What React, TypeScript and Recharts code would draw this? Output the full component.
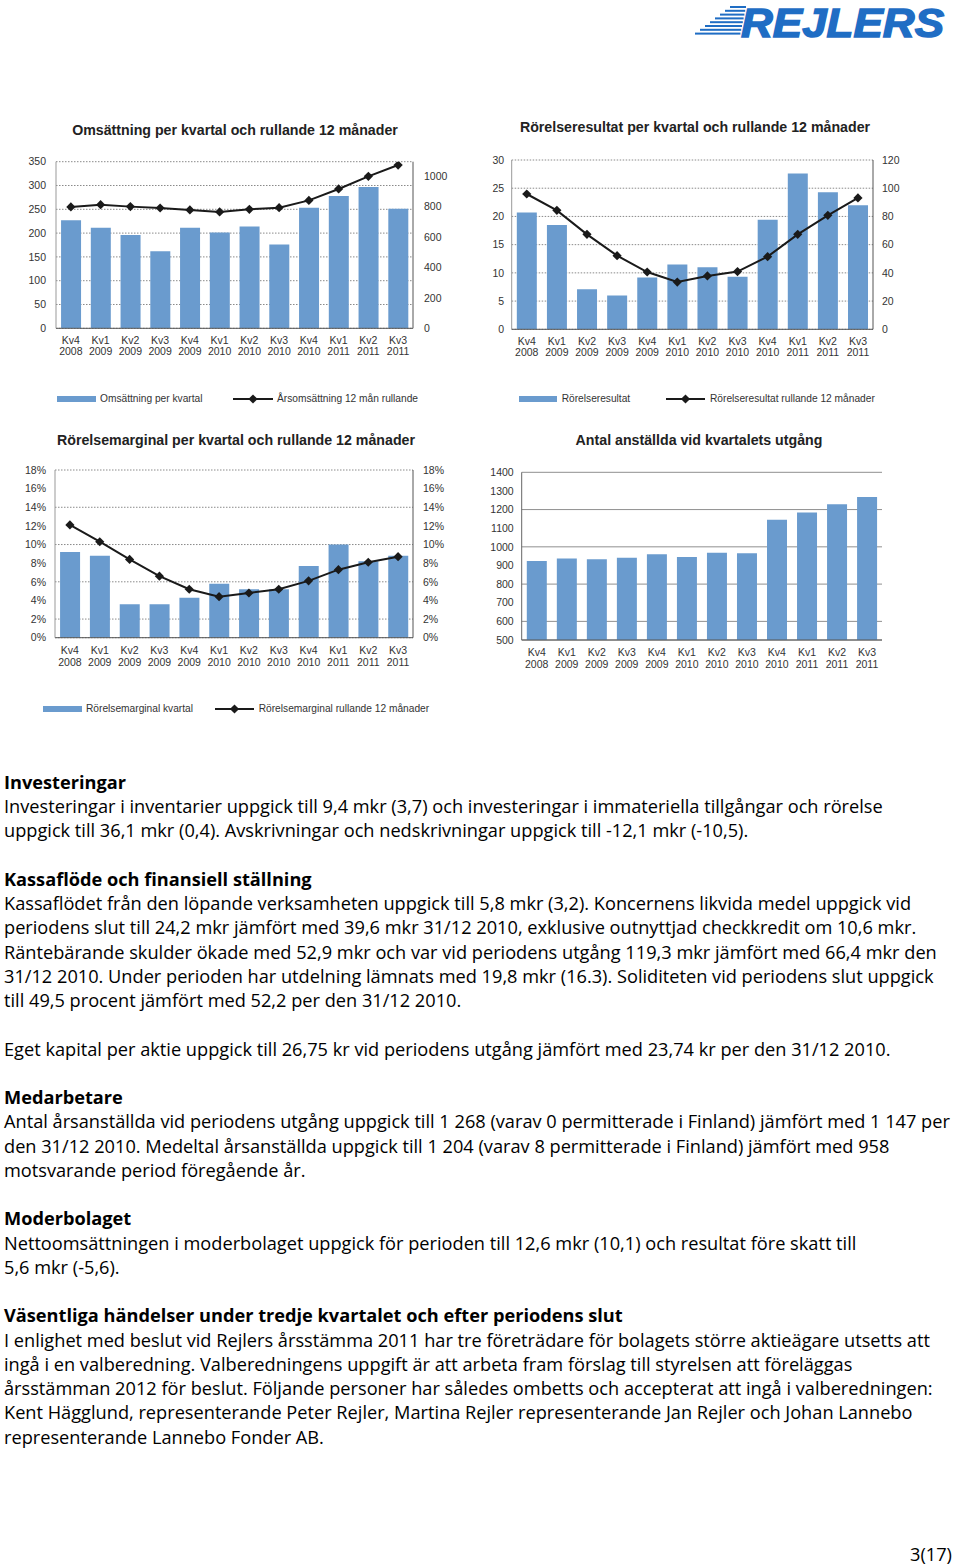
import React from 'react';
import { ComposedChart, BarChart, Bar, Line, XAxis, YAxis, CartesianGrid } from 'recharts';

// ---------- DATA ----------
const categories = [
  'Kv4 2008', 'Kv1 2009', 'Kv2 2009', 'Kv3 2009', 'Kv4 2009', 'Kv1 2010',
  'Kv2 2010', 'Kv3 2010', 'Kv4 2010', 'Kv1 2011', 'Kv2 2011', 'Kv3 2011',
];
const omsKvartal = [227, 211, 196, 162, 211, 201, 214, 176, 253, 278, 297, 251];
const omsRullande = [797, 812, 799, 790, 777, 764, 781, 792, 840, 915, 998, 1072];
const rrKvartal = [20.7, 18.5, 7.1, 6.0, 9.2, 11.5, 11.0, 9.3, 19.4, 27.6, 24.3, 22.0];
const rrRullande = [95.9, 84.3, 67.3, 52.2, 40.6, 33.5, 37.8, 40.9, 51.5, 67.3, 80.8, 93.1];
const marginalKvartal = [9.2, 8.8, 3.6, 3.6, 4.3, 5.8, 5.2, 5.2, 7.7, 10.0, 8.2, 8.8];
const marginalRullande = [12.1, 10.3, 8.4, 6.6, 5.2, 4.4, 4.8, 5.2, 6.1, 7.3, 8.1, 8.7];
const anstallda = [924, 937, 933, 942, 960, 945, 968, 965, 1146, 1184, 1228, 1268];

const omsLeftTicks = [0, 50, 100, 150, 200, 250, 300, 350];
const omsRightTicks = [0, 200, 400, 600, 800, 1000];
const rrLeftTicks = [0, 5, 10, 15, 20, 25, 30];
const rrRightTicks = [0, 20, 40, 60, 80, 100, 120];
const pctTicks = [0, 2, 4, 6, 8, 10, 12, 14, 16, 18];
const anstTicks = [500, 600, 700, 800, 900, 1000, 1100, 1200, 1300, 1400];

const omsData = categories.map((cat, i) => ({ cat, bar: omsKvartal[i], line: omsRullande[i] }));
const rrData = categories.map((cat, i) => ({ cat, bar: rrKvartal[i], line: rrRullande[i] }));
const margData = categories.map((cat, i) => ({ cat, bar: marginalKvartal[i], line: marginalRullande[i] }));
const anstData = categories.map((cat, i) => ({ cat, bar: anstallda[i] }));

const textLines: { t: string; b?: boolean }[] = [
  { t: 'Investeringar', b: true },
  { t: 'Investeringar i inventarier uppgick till 9,4 mkr (3,7) och investeringar i immateriella tillgångar och rörelse' },
  { t: 'uppgick till 36,1 mkr (0,4). Avskrivningar och nedskrivningar uppgick till -12,1 mkr (-10,5).' },
  { t: '' },
  { t: 'Kassaflöde och finansiell ställning', b: true },
  { t: 'Kassaflödet från den löpande verksamheten uppgick till 5,8 mkr (3,2). Koncernens likvida medel uppgick vid' },
  { t: 'periodens slut till 24,2 mkr jämfört med 39,6 mkr 31/12 2010, exklusive outnyttjad checkkredit om 10,6 mkr.' },
  { t: 'Räntebärande skulder ökade med 52,9 mkr och var vid periodens utgång 119,3 mkr jämfört med 66,4 mkr den' },
  { t: '31/12 2010. Under perioden har utdelning lämnats med 19,8 mkr (16.3). Soliditeten vid periodens slut uppgick' },
  { t: 'till 49,5 procent jämfört med 52,2 per den 31/12 2010.' },
  { t: '' },
  { t: 'Eget kapital per aktie uppgick till 26,75 kr vid periodens utgång jämfört med 23,74 kr per den 31/12 2010.' },
  { t: '' },
  { t: 'Medarbetare', b: true },
  { t: 'Antal årsanställda vid periodens utgång uppgick till 1 268 (varav 0 permitterade i Finland) jämfört med 1 147 per' },
  { t: 'den 31/12 2010. Medeltal årsanställda uppgick till 1 204 (varav 8 permitterade i Finland) jämfört med 958' },
  { t: 'motsvarande period föregående år.' },
  { t: '' },
  { t: 'Moderbolaget', b: true },
  { t: 'Nettoomsättningen i moderbolaget uppgick för perioden till 12,6 mkr (10,1) och resultat före skatt till' },
  { t: '5,6 mkr (-5,6).' },
  { t: '' },
  { t: 'Väsentliga händelser under tredje kvartalet och efter periodens slut', b: true },
  { t: 'I enlighet med beslut vid Rejlers årsstämma 2011 har tre företrädare för bolagets större aktieägare utsetts att' },
  { t: 'ingå i en valberedning. Valberedningens uppgift är att arbeta fram förslag till styrelsen att föreläggas' },
  { t: 'årsstämman 2012 för beslut. Följande personer har således ombetts och accepterat att ingå i valberedningen:' },
  { t: 'Kent Hägglund, representerande Peter Rejler, Martina Rejler representerande Jan Rejler och Johan Lannebo' },
  { t: 'representerande Lannebo Fonder AB.' },
];

// ---------- STYLE ----------
const BAR = '#6a9bce';
const LINE = '#1a1a1a';
const TICK = '#333';
const CHART_FONT = '"Liberation Sans", Arial, Helvetica, sans-serif';
const BODY_FONT = '"Open Sans", "Noto Sans", sans-serif';

type Box = { left: number; top: number; w: number; h: number };
type Plot = { x1: number; y1: number; x2: number; y2: number };
const XH = 30;
function margins(box: Box, plot: Plot, L: number, R: number) {
  return {
    top: plot.y1 - box.top,
    left: plot.x1 - box.left - L,
    right: box.left + box.w - plot.x2 - R,
    bottom: box.top + box.h - plot.y2 - XH,
  };
}

const CatTick = (props: any) => {
  const { x, y, payload, off } = props;
  const [q, yr] = String(payload.value).split(' ');
  return (
    <text x={x} y={y} textAnchor="middle" fontSize={10.5} fill={TICK} fontFamily={CHART_FONT}>
      <tspan x={x} dy={off}>{q}</tspan>
      <tspan x={x} dy={11.5}>{yr}</tspan>
    </text>
  );
};

const Diamond = (props: any) => {
  const { cx, cy } = props;
  if (cx == null || cy == null) return <g />;
  const r = 4.6;
  return (
    <polygon
      points={`${cx},${cy - r} ${cx + r},${cy} ${cx},${cy + r} ${cx - r},${cy}`}
      fill={LINE}
    />
  );
};

type DualProps = {
  box: Box; plot: Plot; data: any[];
  leftTicks: number[]; leftDomain: [number, number];
  rightTicks: number[]; rightDomain: [number, number];
  L: number; R: number; lGap: number; rGap: number; fmt?: (v: number) => string; xOff: number;
};

function DualChart(p: DualProps) {
  const m = margins(p.box, p.plot, p.L, p.R);
  return (
    <div style={{ position: 'absolute', left: p.box.left, top: p.box.top, fontFamily: CHART_FONT }}>
      <ComposedChart width={p.box.w} height={p.box.h} data={p.data} margin={m} barCategoryGap="17%">
        <CartesianGrid yAxisId="left" vertical={false} stroke="#8a8a8a" strokeDasharray="1.5 1.5" />
        <XAxis
          dataKey="cat" interval={0} height={XH} tickLine={false} tickSize={0} tickMargin={0}
          axisLine={{ stroke: '#555' }} tick={<CatTick off={p.xOff} />}
        />
        <YAxis
          yAxisId="left" orientation="left" width={p.L} domain={p.leftDomain} ticks={p.leftTicks}
          tickLine={false} tickSize={0} tickMargin={p.lGap} axisLine={{ stroke: '#999' }}
          tick={{ fontSize: 10.5, fill: TICK }} tickFormatter={p.fmt} allowDataOverflow
        />
        <YAxis
          yAxisId="right" orientation="right" width={p.R} domain={p.rightDomain} ticks={p.rightTicks}
          tickLine={false} tickSize={0} tickMargin={p.rGap} axisLine={{ stroke: '#555' }}
          tick={{ fontSize: 10.5, fill: TICK }} tickFormatter={p.fmt} allowDataOverflow
        />
        <Bar yAxisId="left" dataKey="bar" fill={BAR} isAnimationActive={false} />
        <Line
          yAxisId="right" dataKey="line" type="linear" stroke={LINE} strokeWidth={2}
          dot={(dp: any) => <Diamond {...dp} key={dp.index} />} activeDot={false} isAnimationActive={false}
        />
      </ComposedChart>
    </div>
  );
}

function Title({ cx, cy, text }: { cx: number; cy: number; text: string }) {
  return (
    <div
      style={{
        position: 'absolute', left: cx - 250, top: cy - 10, width: 500, height: 20, lineHeight: '20px',
        textAlign: 'center', fontFamily: CHART_FONT, fontWeight: 'bold', fontSize: 14.2, color: '#222',
        whiteSpace: 'nowrap',
      }}
    >
      {text}
    </div>
  );
}

function LegendRow(props: {
  y: number; sx1: number; sx2: number; t1x: number; t1: string; lx1: number; lx2: number; t2x: number; t2: string;
}) {
  const { y, sx1, sx2, t1x, t1, lx1, lx2, t2x, t2 } = props;
  const lw = lx2 - lx1;
  const txt: React.CSSProperties = {
    position: 'absolute', top: y - 7, height: 14, lineHeight: '14px', fontSize: 10.2, color: '#333',
    fontFamily: CHART_FONT, whiteSpace: 'nowrap',
  };
  return (
    <>
      <div style={{ position: 'absolute', left: sx1, top: y - 3, width: sx2 - sx1, height: 6, background: BAR }} />
      <div style={{ ...txt, left: t1x }}>{t1}</div>
      <svg style={{ position: 'absolute', left: lx1, top: y - 6 }} width={lw} height={12}>
        <line x1={0} y1={6} x2={lw} y2={6} stroke={LINE} strokeWidth={2} />
        <polygon points={`${lw / 2},1.4 ${lw / 2 + 4.6},6 ${lw / 2},10.6 ${lw / 2 - 4.6},6`} fill={LINE} />
      </svg>
      <div style={{ ...txt, left: t2x }}>{t2}</div>
    </>
  );
}

function Logo() {
  const stripes = Array.from({ length: 8 }, (_, i) => i);
  return (
    <svg style={{ position: 'absolute', left: 680, top: 0 }} width={276} height={48}>
      {stripes.map((i) => (
        <rect key={i} x={50 - i * 5} y={6 + i * 3.8} width={66 - i * 0.8 - (50 - i * 5)} height={2} fill="#1f6dc4" />
      ))}
      <text
        x={61} y={37} fontFamily={CHART_FONT} fontWeight="bold" fontStyle="italic" fontSize={40}
        fill="#1f6dc4" stroke="#1f6dc4" strokeWidth={1.4} textLength={203} lengthAdjust="spacingAndGlyphs"
      >
        REJLERS
      </text>
    </svg>
  );
}

export default function App() {
  const lh = 24.26;
  return (
    <div style={{ position: 'absolute', left: 0, top: 0, width: 960, height: 1568, background: '#fff', overflow: 'hidden' }}>
      <Logo />

      <Title cx={235} cy={130} text="Omsättning per kvartal och rullande 12 månader" />
      <Title cx={695} cy={127} text="Rörelseresultat per kvartal och rullande 12 månader" />
      <Title cx={236} cy={440} text="Rörelsemarginal per kvartal och rullande 12 månader" />
      <Title cx={699} cy={440} text="Antal anställda vid kvartalets utgång" />

      <DualChart
        box={{ left: 0, top: 140, w: 470, h: 220 }} plot={{ x1: 56, y1: 161.7, x2: 413, y2: 328.3 }}
        data={omsData} leftTicks={omsLeftTicks} leftDomain={[0, 350]} rightTicks={omsRightTicks} rightDomain={[0, 1094]}
        L={40} R={40} lGap={10} rGap={11} xOff={15.5}
      />
      <DualChart
        box={{ left: 470, top: 140, w: 490, h: 220 }} plot={{ x1: 511.7, y1: 160, x2: 873, y2: 329.3 }}
        data={rrData} leftTicks={rrLeftTicks} leftDomain={[0, 30]} rightTicks={rrRightTicks} rightDomain={[0, 120]}
        L={35} R={40} lGap={7.5} rGap={9} xOff={15.2}
      />
      <DualChart
        box={{ left: 0, top: 450, w: 470, h: 220 }} plot={{ x1: 55, y1: 470, x2: 413, y2: 637.7 }}
        data={margData} leftTicks={pctTicks} leftDomain={[0, 18]} rightTicks={pctTicks} rightDomain={[0, 18]}
        L={40} R={40} lGap={9} rGap={10} fmt={(v: number) => `${v}%`} xOff={16.4}
      />

      <div style={{ position: 'absolute', left: 470, top: 450, fontFamily: CHART_FONT }}>
        <BarChart
          width={490} height={225} data={anstData} barCategoryGap="17%"
          margin={margins({ left: 470, top: 450, w: 490, h: 225 }, { x1: 521.7, y1: 472.3, x2: 882, y2: 640 }, 45, 0)}
        >
          <CartesianGrid vertical={false} stroke="#8f8f8f" />
          <XAxis
            dataKey="cat" interval={0} height={XH} tickLine={false} tickSize={0} tickMargin={0}
            axisLine={{ stroke: '#555' }} tick={<CatTick off={16.4} />}
          />
          <YAxis
            width={45} domain={[500, 1400]} ticks={anstTicks} tickLine={false} tickSize={0} tickMargin={8}
            axisLine={{ stroke: '#666' }} tick={{ fontSize: 10.5, fill: TICK }} allowDataOverflow
          />
          <Bar dataKey="bar" fill={BAR} isAnimationActive={false} />
        </BarChart>
      </div>

      <LegendRow y={399} sx1={57} sx2={96} t1x={100} t1="Omsättning per kvartal" lx1={233} lx2={273} t2x={277} t2="Årsomsättning 12 mån rullande" />
      <LegendRow y={399.3} sx1={519} sx2={557} t1x={561.7} t1="Rörelseresultat" lx1={666} lx2={705} t2x={710} t2="Rörelseresultat rullande 12 månader" />
      <LegendRow y={708.7} sx1={43} sx2={82} t1x={86} t1="Rörelsemarginal kvartal" lx1={215} lx2={254} t2x={258.7} t2="Rörelsemarginal rullande 12 månader" />

      <div style={{ position: 'absolute', left: 4, top: 782 - lh / 2, fontFamily: BODY_FONT, fontSize: 18.2, color: '#000' }}>
        {textLines.map((l, i) => (
          <div key={i} style={{ height: lh, lineHeight: `${lh}px`, whiteSpace: 'nowrap', fontWeight: l.b ? 700 : 400 }}>
            {l.t}
          </div>
        ))}
      </div>

      <div
        style={{
          position: 'absolute', left: 852, width: 100, top: 1554 - 12, height: 24, lineHeight: '24px',
          textAlign: 'right', fontFamily: BODY_FONT, fontSize: 18.2, color: '#000',
        }}
      >
        3(17)
      </div>
    </div>
  );
}
